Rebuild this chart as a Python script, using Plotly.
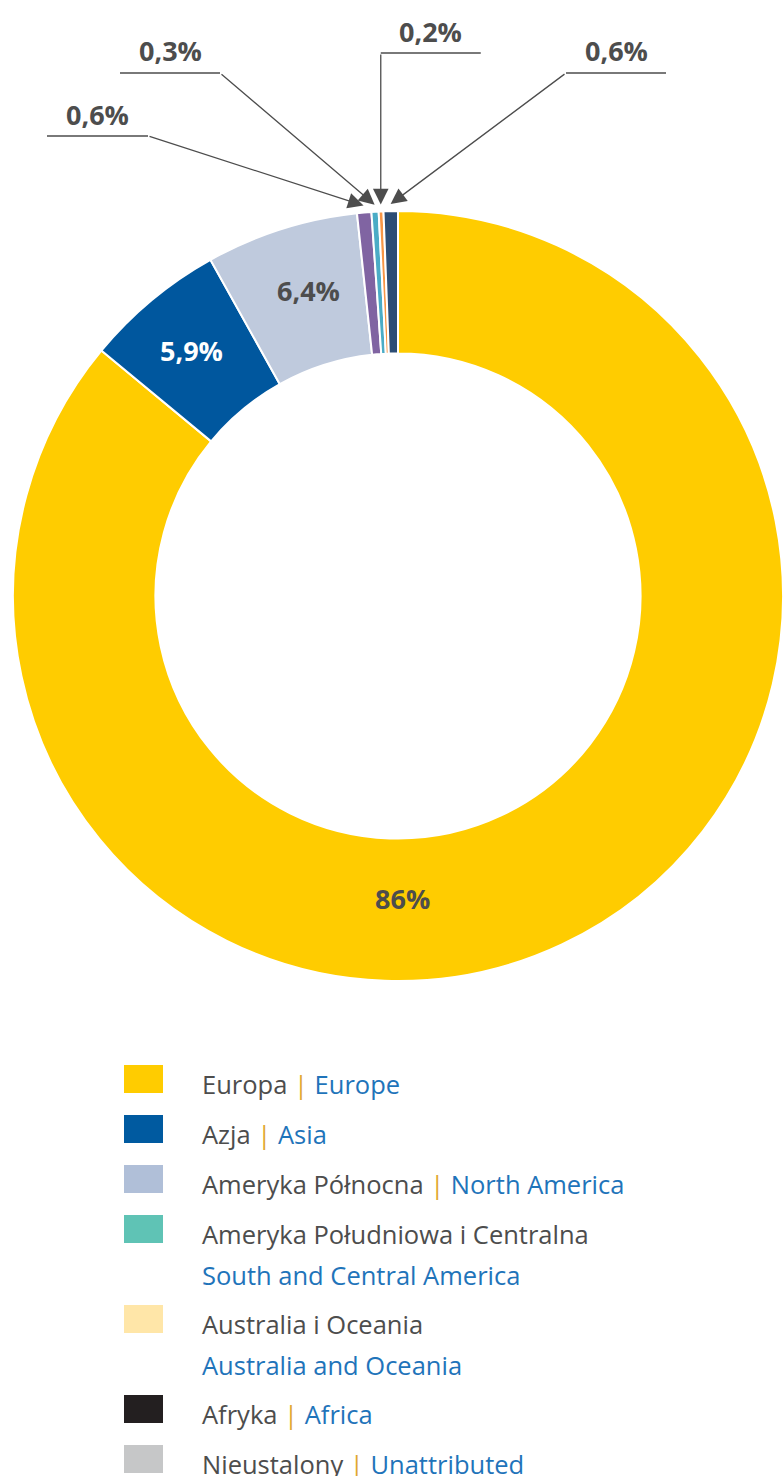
import math
import plotly.graph_objects as go

# Region shares (%) in drawing order, clockwise from 12 o'clock
regions = ["Europa", "Azja", "Ameryka Północna", "Ameryka Południowa i Centralna",
           "Australia i Oceania", "Afryka", "Nieustalony"]
shares = [86, 5.9, 6.4, 0.6, 0.3, 0.2, 0.6]
slice_colors = ["#FFCC00", "#00579E", "#BFCADD", "#8064A2", "#4BACC6", "#F79646", "#2C4D75"]

# Legend entries
legend_pl = ["Europa", "Azja", "Ameryka Północna", "Ameryka Południowa i Centralna",
             "Australia i Oceania", "Afryka", "Nieustalony"]
legend_en = ["Europe", "Asia", "North America", "South and Central America",
             "Australia and Oceania", "Africa", "Unattributed"]
legend_colors = ["#FFCC00", "#005AA0", "#B0BFD8", "#5FC3B5", "#FFE6A8", "#231F20", "#C6C7C8"]
legend_wrap = [False, False, False, True, True, False, False]

W, H = 783, 1476
TXT = "#4D4D4D"
BLUE = "#1F74BA"
SEP = "#E0A82E"
FONT = "Open Sans"


def fx(x):
    return x / W


def fy(y):
    return 1 - y / H


def pct(v):
    s = f"{v:.0f}" if v >= 10 else f"{v:.1f}".replace(".", ",")
    return s + "%"


# donut placement (pixels)
cx, cy, R = 398, 596, 385
dom_x = [fx(cx - R), fx(cx + R)]
dom_y = [fy(cy + R), fy(cy - R)]

fig = go.Figure(go.Pie(
    labels=regions,
    values=shares,
    sort=False,
    direction="clockwise",
    rotation=0,
    hole=0.63,
    marker=dict(colors=slice_colors, line=dict(color="white", width=2)),
    textinfo="none",
    hoverinfo="label+percent",
    domain=dict(x=dom_x, y=dom_y),
))

annotations = []
shapes = []

# mid-angle of every slice (degrees clockwise from 12 o'clock)
total = sum(shares)
mids = []
acc = 0.0
for v in shares:
    mids.append((acc + v / 2) / total * 360)
    acc += v

PCT_FONT = 27

# labels inside the three large slices
inside = {0: (402, 898, TXT), 1: (191, 350, "white"), 2: (308, 290, TXT)}
for i, (x, y, col) in inside.items():
    annotations.append(dict(
        x=fx(x), y=fy(y), xref="paper", yref="paper", showarrow=False,
        text=pct(shares[i]), font=dict(family=FONT, size=PCT_FONT, color=col, weight=700),
        xanchor="center", yanchor="middle",
    ))

# leader lines for the thin slices: (slice index, line start x, line end x, line y, elbow x)
leaders = [
    (3, 47, 148, 136, 148),
    (4, 120, 220, 73, 220),
    (5, None, None, 53, None),
    (6, 566, 666, 73, 566),
]
for i, x0, x1, ly, ex in leaders:
    a = math.radians(mids[i])
    tx = cx + (R + 7) * math.sin(a)
    ty = cy - (R + 7) * math.cos(a)
    if ex is None:  # straight vertical drop
        ex = tx
        x0, x1 = tx, tx + 100
    shapes.append(dict(type="line", xref="paper", yref="paper",
                       x0=fx(x0), x1=fx(x1), y0=fy(ly), y1=fy(ly),
                       line=dict(color=TXT, width=1.3)))
    annotations.append(dict(
        x=fx(tx), y=fy(ty), xref="paper", yref="paper", text="",
        showarrow=True, ax=ex - tx, ay=ly - ty, axref="pixel", ayref="pixel",
        arrowhead=2, arrowsize=2.4, arrowwidth=1.3, arrowcolor=TXT, standoff=0,
    ))
    annotations.append(dict(
        x=fx((x0 + x1) / 2), y=fy(ly - 22), xref="paper", yref="paper",
        showarrow=False, text=pct(shares[i]),
        font=dict(family=FONT, size=PCT_FONT, color=TXT, weight=700),
        xanchor="center", yanchor="middle",
    ))

# custom legend
top = 1065
for pl, en, col, wrap in zip(legend_pl, legend_en, legend_colors, legend_wrap):
    shapes.append(dict(type="rect", xref="paper", yref="paper",
                       x0=fx(124), x1=fx(163), y0=fy(top + 28), y1=fy(top),
                       fillcolor=col, line=dict(width=0)))
    if wrap:
        lines = [f"<span style='color:{TXT}'>{pl}</span>",
                 f"<span style='color:{BLUE}'>{en}</span>"]
    else:
        lines = [f"<span style='color:{TXT}'>{pl}</span> "
                 f"<span style='color:{SEP}'>|</span> "
                 f"<span style='color:{BLUE}'>{en}</span>"]
    for k, t in enumerate(lines):
        annotations.append(dict(
            x=fx(200), y=fy(top + 19 + 41 * k), xref="paper", yref="paper",
            showarrow=False, text=t, font=dict(family=FONT, size=25.5, color=TXT),
            xanchor="left", yanchor="middle",
        ))
    top += 90 if wrap else 50

fig.update_layout(
    width=W, height=H,
    margin=dict(l=0, r=0, t=0, b=0),
    paper_bgcolor="white", plot_bgcolor="white",
    showlegend=False,
    annotations=annotations,
    shapes=shapes,
)

fig.write_html("out.html")
